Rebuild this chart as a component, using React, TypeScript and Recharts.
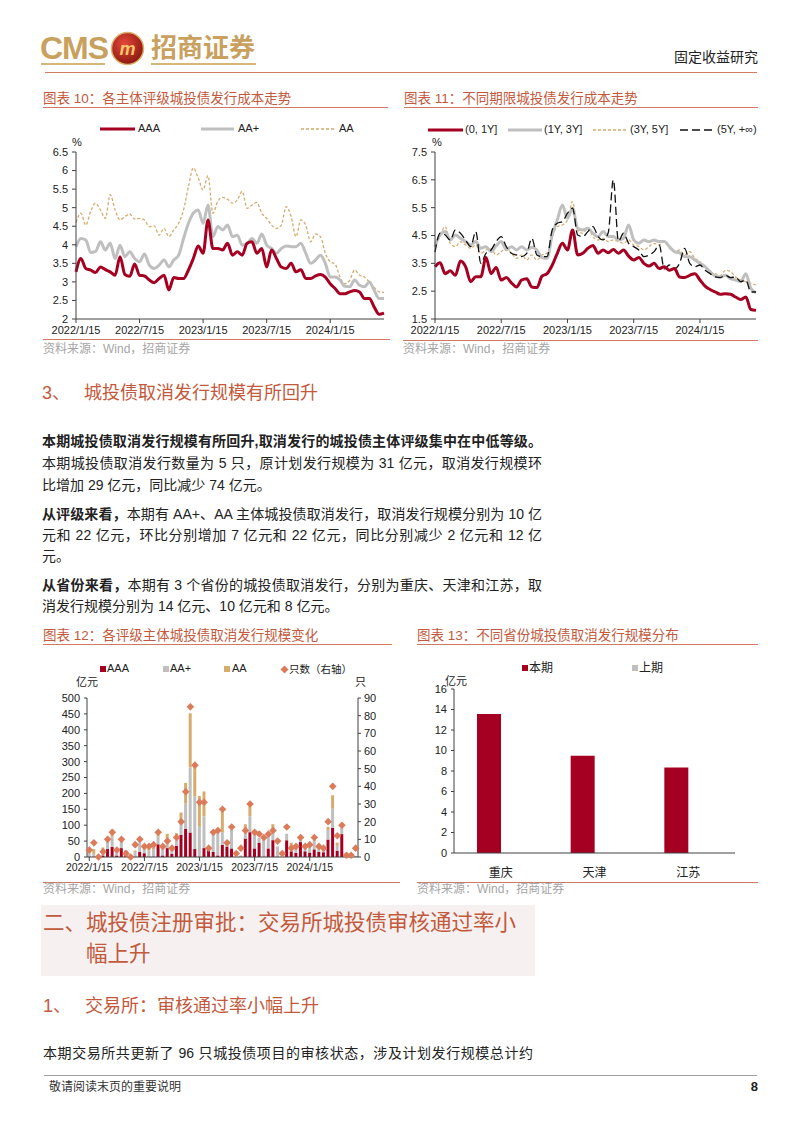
import React from 'react';
import { LineChart, Line, XAxis, YAxis, ComposedChart, Bar, BarChart } from 'recharts';

const LATIN = '"Liberation Sans", Arial, sans-serif';
const CJK = '"Liberation Sans", "Noto Sans CJK SC", sans-serif';
const TITLE_RED = '#c25a3d';
const LINE_RED = '#d07a62';
const DARK_RED = '#a50021';
const GRAY = '#bfbfbf';
const TAN = '#d6ab6e';

// ---------- Chart 10: cost by issuer rating (biweekly points) ----------
const rateTickIdx = [0, 13, 26, 39, 52];
const rateTickLabels = ['2022/1/15', '2022/7/15', '2023/1/15', '2023/7/15', '2024/1/15'];

const aaaCost = [3.27,3.63,3.36,3.32,3.25,3.40,3.33,3.27,3.18,3.68,3.20,3.15,3.48,3.18,3.16,3.05,2.98,3.09,3.18,2.78,3.12,3.09,3.09,3.32,3.63,3.97,3.77,4.67,3.90,3.90,3.86,4.04,3.72,3.81,3.72,4.04,4.08,3.77,3.90,3.40,3.86,3.63,3.40,3.36,3.50,3.27,3.33,3.09,3.09,3.16,3.20,3.13,2.95,2.82,2.68,2.68,2.73,2.77,2.73,2.55,2.55,2.32,2.13,2.16];
const aapCost = [3.95,4.17,4.13,3.79,3.82,4.08,3.86,4.04,3.63,3.99,3.68,3.81,3.63,3.54,3.75,3.45,3.36,3.45,3.59,3.41,3.59,3.72,4.17,4.58,4.85,4.94,4.58,5.07,4.22,4.49,4.40,4.53,4.22,4.26,3.99,4.04,4.17,4.04,4.29,3.99,3.90,3.77,3.90,3.97,3.95,3.95,4.04,3.77,3.50,3.59,3.72,3.50,3.13,3.13,3.05,2.88,2.87,3.05,2.91,2.87,3.00,2.77,2.55,2.55];
const aaCost = [4.60,4.85,4.53,4.90,5.12,4.94,4.71,5.35,4.94,4.67,4.76,4.83,4.69,4.71,4.67,4.49,4.51,4.26,4.44,4.22,4.40,4.58,4.94,5.57,6.07,5.80,5.48,5.86,4.85,5.17,5.28,5.23,5.12,5.21,5.44,4.98,5.07,5.14,4.85,4.71,4.53,4.44,4.53,5.03,4.76,4.22,4.67,4.53,4.08,4.29,4.22,3.77,3.54,3.48,3.13,2.95,3.05,3.32,3.18,3.13,3.00,2.85,2.73,2.72];

// ---------- Chart 11: cost by tenor ----------
const tenor01 = [3.38,3.52,3.13,3.23,3.07,3.58,3.38,2.84,3.02,3.02,3.71,3.13,3.35,2.90,2.99,2.80,2.65,2.90,2.95,2.65,2.63,3.04,3.13,3.43,3.86,4.22,3.98,4.70,3.80,3.86,4.04,4.14,3.86,3.98,3.88,4.00,3.86,3.98,3.76,3.62,3.71,3.50,3.40,3.50,3.31,3.38,3.25,3.31,3.01,2.99,3.07,3.13,2.90,2.68,2.56,2.47,2.39,2.41,2.39,2.29,2.20,2.29,1.84,1.81];
const tenor13 = [4.10,4.52,4.64,4.34,4.52,4.40,4.28,4.16,4.28,4.04,4.10,3.92,4.13,4.28,3.98,4.10,3.98,4.10,3.98,4.08,3.98,3.71,3.68,4.52,5.06,5.60,5.12,5.48,4.76,4.70,4.76,4.58,4.46,4.64,4.46,4.46,4.34,4.40,4.88,4.34,4.22,4.34,4.28,4.34,4.28,4.28,4.10,3.92,3.88,3.74,3.74,3.62,3.50,3.38,3.20,3.04,3.01,3.07,2.95,2.90,2.84,3.13,2.60,2.45];
const tenor35 = [4.22,4.52,4.82,4.22,4.10,4.28,4.16,4.04,4.16,3.86,3.98,4.04,3.80,3.92,4.04,3.86,3.68,3.80,3.62,3.80,3.62,3.80,3.86,4.46,4.82,4.88,5.06,5.72,4.70,4.58,4.76,4.46,4.34,4.40,4.28,4.34,4.28,4.22,4.34,4.16,4.10,3.98,4.10,4.22,4.16,4.28,4.04,3.92,3.98,3.80,3.92,3.68,3.56,3.31,3.20,3.13,3.07,3.25,3.20,3.01,2.90,2.84,2.78,2.72];
const tenor5p = [3.90,4.58,4.52,4.34,4.70,4.58,4.34,4.10,4.64,3.50,3.86,3.98,4.28,4.46,4.10,3.86,3.80,3.74,3.86,4.40,3.80,3.74,3.74,4.70,4.94,5.00,5.30,5.48,4.52,4.46,4.64,4.82,4.46,4.34,4.60,6.50,4.30,4.58,4.22,4.10,3.98,3.74,3.80,3.92,4.16,3.30,3.44,3.31,3.50,4.04,3.50,3.38,3.44,3.25,3.13,3.01,2.99,3.07,2.99,3.01,2.84,2.90,2.47,2.47];

// ---------- Chart 12: cancelled issuance by rating ----------
const cancelTickIdx = [0, 12, 24, 36, 48];
const cancelAAA = [0,0,0,5,25,32,5,28,20,0,0,16,12,0,0,40,5,28,10,35,70,88,77,25,0,28,28,16,5,38,33,27,0,0,58,78,27,45,0,27,53,0,0,53,18,13,47,18,14,24,16,15,55,92,20,72,0,0,0];
const cancelAAp = [12,10,0,10,25,32,15,25,0,0,15,30,20,20,25,25,25,20,15,30,45,80,205,165,95,100,5,60,75,40,15,58,5,5,30,50,45,15,55,40,35,33,3,20,15,13,10,8,18,32,20,10,30,60,15,20,0,0,3];
const cancelAA = [13,15,0,15,5,22,0,0,0,5,5,0,0,5,5,10,0,25,0,10,25,65,170,100,97,78,0,0,0,65,0,0,0,0,15,32,0,0,0,0,15,0,0,0,12,10,0,0,0,0,5,0,10,42,10,0,0,0,0];
const cancelCount = [4,8,0,3,10,14,4,10,2,0,7,10,6,6,7,14,6,9,5,11,20,37,85,52,31,31,5,14,15,27,8,17,2,5,15,30,14,13,11,13,15,9,2,17,5,6,11,6,7,11,6,5,20,40,12,18,1,1,5];

// ---------- Chart 13: cancelled issuance by province ----------
const provinces = ['重庆', '天津', '江苏'];
const provCurrent = [13.55, 9.5, 8.35];
const provPrevious = [0, 0, 0];

const ratingData = aaaCost.map((v, i) => ({ i, aaa: v, aap: aapCost[i], aa: aaCost[i] }));
const tenorData = tenor01.map((v, i) => ({ i, t01: v, t13: tenor13[i], t35: tenor35[i], t5p: tenor5p[i] }));
const cancelData = cancelAAA.map((v, i) => ({ i, aaa: v, aap: cancelAAp[i], aa: cancelAA[i], cnt: cancelCount[i] }));
const provData = provinces.map((p, k) => ({ p, cur: provCurrent[k], prev: provPrevious[k] }));

const fmtRate = (v: number) => {
  const k = rateTickIdx.indexOf(v);
  return k >= 0 ? rateTickLabels[k] : '';
};
const fmtCancel = (v: number) => {
  const k = cancelTickIdx.indexOf(v);
  return k >= 0 ? rateTickLabels[k] : '';
};

const tickStyle = { fontSize: 11, fill: '#222', fontFamily: LATIN };
const axisLine = { stroke: '#404040', strokeWidth: 1 };

const Txt = ({ x, y, size = 14, color = '#222', weight = 400, family = CJK, children, width, justify, right }: any) => (
  <div
    style={{
      position: 'absolute',
      left: right === undefined ? x : undefined,
      right: right !== undefined ? 802 - right : undefined,
      top: y - size * 0.7,
      width,
      fontSize: size,
      lineHeight: `${Math.round(size * 1.4)}px`,
      color,
      fontWeight: weight,
      fontFamily: family,
      whiteSpace: 'nowrap',
      textAlign: justify ? 'justify' : 'left',
      textAlignLast: justify ? 'justify' : undefined,
    } as any}
  >
    {children}
  </div>
);

const HLine = ({ x1, x2, y, color, w = 1 }: any) => (
  <div style={{ position: 'absolute', left: x1, top: y - w / 2, width: x2 - x1, height: w, background: color }} />
);

const LegLine = ({ x1, x2, y, color, w, dash }: any) => (
  <svg style={{ position: 'absolute', left: x1, top: y - 4 }} width={x2 - x1} height={8}>
    <line x1={0} y1={4} x2={x2 - x1} y2={4} stroke={color} strokeWidth={w} strokeDasharray={dash} />
  </svg>
);

const Square = ({ x, y, color, s = 6 }: any) => (
  <div style={{ position: 'absolute', left: x, top: y - s / 2, width: s, height: s, background: color }} />
);

const Diamond = (props: any) => {
  const { cx, cy, index } = props;
  if (cx == null || cy == null) return <g key={`n${index}`} />;
  const r = 3.8;
  return (
    <path
      key={`d${index}`}
      d={`M${cx},${cy - r}L${cx + r},${cy}L${cx},${cy + r}L${cx - r},${cy}Z`}
      fill="#dc7b5a"
    />
  );
};

export default function App() {
  return (
    <div style={{ position: 'absolute', left: 0, top: 0, width: 802, height: 1133, background: '#fff', overflow: 'hidden', fontFamily: CJK }}>
      {/* ---------- Header ---------- */}
      <div style={{ position: 'absolute', left: 40, top: 30, fontFamily: LATIN, fontSize: 32, fontWeight: 600, color: '#c9a15f', letterSpacing: -1, lineHeight: '36px' }}>CMS</div>
      <svg style={{ position: 'absolute', left: 110, top: 31 }} width={35} height={35}>
        <defs>
          <radialGradient id="logoG" cx="40%" cy="35%" r="65%">
            <stop offset="0%" stopColor="#e5473a" />
            <stop offset="100%" stopColor="#8e1a12" />
          </radialGradient>
        </defs>
        <circle cx={17.5} cy={17.5} r={16} fill="url(#logoG)" stroke="#d9b26a" strokeWidth={1.5} />
        <text x={17.5} y={24} textAnchor="middle" fontSize={18} fontWeight={700} fontStyle="italic" fill="#f2c86a" fontFamily={LATIN}>m</text>
      </svg>
      <div style={{ position: 'absolute', left: 151, top: 31, fontSize: 26, fontWeight: 700, color: '#c9a15f', lineHeight: '34px', fontFamily: CJK }}>招商证券</div>
      <HLine x1={41} x2={105} y={64} color="#d7b679" w={2} />
      <HLine x1={151} x2={256} y={64} color="#d7b679" w={2} />
      <Txt right={758} y={57} size={14} color="#222">固定收益研究</Txt>
      <HLine x1={45} x2={757} y={72} color={LINE_RED} w={1} />

      {/* ---------- Chart titles 10/11 ---------- */}
      <Txt x={43} y={98} size={13.5} color={TITLE_RED}>图表 10：各主体评级城投债发行成本走势</Txt>
      <HLine x1={43} x2={388} y={107} color={LINE_RED} w={1} />
      <Txt x={404} y={98} size={13.5} color={TITLE_RED}>图表 11：不同期限城投债发行成本走势</Txt>
      <HLine x1={404} x2={758} y={107} color={LINE_RED} w={1} />

      {/* ---------- Chart 10 legend ---------- */}
      <LegLine x1={100} x2={135} y={129} color={DARK_RED} w={3} />
      <Txt x={138} y={129} size={11} family={LATIN}>AAA</Txt>
      <LegLine x1={201} x2={234} y={129} color={GRAY} w={3} />
      <Txt x={238} y={129} size={11} family={LATIN}>AA+</Txt>
      <LegLine x1={301} x2={335} y={129} color={TAN} w={1.3} dash="3 2" />
      <Txt x={339} y={129} size={11} family={LATIN}>AA</Txt>
      <Txt x={72} y={143} size={11} family={LATIN}>%</Txt>

      <div style={{ position: 'absolute', left: 30, top: 140 }}>
        <LineChart width={370} height={200} data={ratingData} margin={{ top: 12, right: 16, bottom: 0, left: 6 }}>
          <XAxis dataKey="i" type="number" domain={[0, 63]} ticks={rateTickIdx} tickFormatter={fmtRate} interval={0}
            height={21} tickSize={4} tickMargin={3} axisLine={axisLine} tickLine={axisLine} tick={tickStyle} />
          <YAxis domain={[2, 6.5]} ticks={[2, 2.5, 3, 3.5, 4, 4.5, 5, 5.5, 6, 6.5]} interval={0} width={40}
            tickSize={4} tickMargin={4} axisLine={axisLine} tickLine={axisLine} tick={tickStyle} />
          <Line type="monotone" dataKey="aa" stroke={TAN} strokeWidth={1.3} strokeDasharray="3 2" dot={false} isAnimationActive={false} />
          <Line type="monotone" dataKey="aap" stroke={GRAY} strokeWidth={3} dot={false} isAnimationActive={false} />
          <Line type="monotone" dataKey="aaa" stroke={DARK_RED} strokeWidth={3} dot={false} isAnimationActive={false} />
        </LineChart>
      </div>
      <HLine x1={43} x2={390} y={339} color={LINE_RED} w={1} />
      <Txt x={43} y={349} size={12} color="#a6a6a6">资料来源：Wind，招商证券</Txt>

      {/* ---------- Chart 11 legend ---------- */}
      <LegLine x1={428} x2={463} y={130} color={DARK_RED} w={3} />
      <Txt x={465} y={130} size={11} family={LATIN}>(0, 1Y]</Txt>
      <LegLine x1={508} x2={542} y={130} color={GRAY} w={3} />
      <Txt x={544} y={130} size={11} family={LATIN}>(1Y, 3Y]</Txt>
      <LegLine x1={593} x2={628} y={130} color={TAN} w={1.3} dash="3 2" />
      <Txt x={630} y={130} size={11} family={LATIN}>(3Y, 5Y]</Txt>
      <LegLine x1={680} x2={715} y={130} color="#111" w={1.3} dash="8 4" />
      <Txt x={717} y={130} size={11} family={LATIN}>(5Y, +∞)</Txt>
      <Txt x={432} y={143} size={11} family={LATIN}>%</Txt>

      <div style={{ position: 'absolute', left: 395, top: 140 }}>
        <LineChart width={380} height={200} data={tenorData} margin={{ top: 12, right: 19, bottom: 0, left: 6 }}>
          <XAxis dataKey="i" type="number" domain={[0, 63]} ticks={rateTickIdx} tickFormatter={fmtRate} interval={0}
            height={21} tickSize={4} tickMargin={3} axisLine={axisLine} tickLine={axisLine} tick={tickStyle} />
          <YAxis domain={[1.5, 7.5]} ticks={[1.5, 2.5, 3.5, 4.5, 5.5, 6.5, 7.5]} interval={0} width={34}
            tickSize={4} tickMargin={4} axisLine={axisLine} tickLine={axisLine} tick={tickStyle} />
          <Line type="monotone" dataKey="t35" stroke={TAN} strokeWidth={1.2} strokeDasharray="3 2" dot={false} isAnimationActive={false} />
          <Line type="monotone" dataKey="t13" stroke={GRAY} strokeWidth={3} dot={false} isAnimationActive={false} />
          <Line type="monotone" dataKey="t5p" stroke="#111" strokeWidth={1.3} strokeDasharray="8 4" dot={false} isAnimationActive={false} />
          <Line type="monotone" dataKey="t01" stroke={DARK_RED} strokeWidth={3} dot={false} isAnimationActive={false} />
        </LineChart>
      </div>
      <HLine x1={403} x2={758} y={340} color={LINE_RED} w={1} />
      <Txt x={403} y={349} size={12} color="#a6a6a6">资料来源：Wind，招商证券</Txt>

      {/* ---------- Section 3 text ---------- */}
      <Txt x={42} y={394} size={18} color={TITLE_RED}>3、</Txt>
      <Txt x={84} y={394} size={18} color={TITLE_RED}>城投债取消发行规模有所回升</Txt>

      <Txt x={42} y={441} size={14} weight={700} width={500} justify>本期城投债取消发行规模有所回升,取消发行的城投债主体评级集中在中低等级。</Txt>
      <Txt x={42} y={463} size={14} width={500} justify>本期城投债取消发行数量为 5 只，原计划发行规模为 31 亿元，取消发行规模环</Txt>
      <Txt x={42} y={485} size={14}>比增加 29 亿元，同比减少 74 亿元。</Txt>

      <Txt x={42} y={514} size={14} width={500} justify><b>从评级来看，</b>本期有 AA+、AA 主体城投债取消发行，取消发行规模分别为 10 亿</Txt>
      <Txt x={42} y={535} size={14} width={500} justify>元和 22 亿元，环比分别增加 7 亿元和 22 亿元，同比分别减少 2 亿元和 12 亿</Txt>
      <Txt x={42} y={556} size={14}>元。</Txt>

      <Txt x={42} y={585} size={14} width={500} justify><b>从省份来看，</b>本期有 3 个省份的城投债取消发行，分别为重庆、天津和江苏，取</Txt>
      <Txt x={42} y={606} size={14}>消发行规模分别为 14 亿元、10 亿元和 8 亿元。</Txt>

      {/* ---------- Chart titles 12/13 ---------- */}
      <Txt x={43} y={635} size={13.5} color={TITLE_RED}>图表 12：各评级主体城投债取消发行规模变化</Txt>
      <HLine x1={43} x2={392} y={644} color={LINE_RED} w={1} />
      <Txt x={417} y={635} size={13.5} color={TITLE_RED}>图表 13：不同省份城投债取消发行规模分布</Txt>
      <HLine x1={417} x2={758} y={644} color={LINE_RED} w={1} />

      {/* ---------- Chart 12 legend ---------- */}
      <Square x={100} y={669} color={DARK_RED} />
      <Txt x={107} y={669} size={11} family={LATIN}>AAA</Txt>
      <Square x={163} y={669} color={GRAY} />
      <Txt x={170} y={669} size={11} family={LATIN}>AA+</Txt>
      <Square x={224} y={669} color={TAN} />
      <Txt x={232} y={669} size={11} family={LATIN}>AA</Txt>
      <svg style={{ position: 'absolute', left: 280, top: 665 }} width={9} height={9}>
        <path d="M4.5,0.5L8.5,4.5L4.5,8.5L0.5,4.5Z" fill="#dc7b5a" />
      </svg>
      <Txt x={289} y={669} size={10.5}>只数（右轴）</Txt>
      <Txt x={76} y={683} size={11}>亿元</Txt>
      <Txt x={355} y={683} size={11}>只</Txt>

      <div style={{ position: 'absolute', left: 30, top: 675 }}>
        <ComposedChart width={370} height={205} data={cancelData} barCategoryGap="14%" margin={{ top: 23, right: 6, bottom: 0, left: 7 }}>
          <XAxis dataKey="i" type="category" ticks={cancelTickIdx} tickFormatter={fmtCancel} interval={0}
            height={23} tickSize={4} tickMargin={3} axisLine={axisLine} tickLine={axisLine}
            tick={{ fontSize: 10.5, fill: '#222', fontFamily: LATIN }} />
          <YAxis yAxisId="left" domain={[0, 500]} ticks={[0, 50, 100, 150, 200, 250, 300, 350, 400, 450, 500]} interval={0}
            width={50} tickSize={3} tickMargin={4} axisLine={axisLine} tickLine={axisLine} tick={tickStyle} />
          <YAxis yAxisId="right" orientation="right" domain={[0, 90]} ticks={[0, 10, 20, 30, 40, 50, 60, 70, 80, 90]} interval={0}
            width={36} tickSize={3} tickMargin={3} axisLine={axisLine} tickLine={axisLine} tick={tickStyle} />
          <Bar yAxisId="left" dataKey="aaa" stackId="s" fill={DARK_RED} isAnimationActive={false} />
          <Bar yAxisId="left" dataKey="aap" stackId="s" fill={GRAY} isAnimationActive={false} />
          <Bar yAxisId="left" dataKey="aa" stackId="s" fill={TAN} isAnimationActive={false} />
          <Line yAxisId="right" dataKey="cnt" stroke="none" dot={Diamond} activeDot={false} legendType="none" isAnimationActive={false} />
        </ComposedChart>
      </div>
      <HLine x1={43} x2={400} y={882} color={LINE_RED} w={1} />
      <Txt x={43} y={889} size={12} color="#a6a6a6">资料来源：Wind，招商证券</Txt>

      {/* ---------- Chart 13 ---------- */}
      <Square x={522} y={668} color={DARK_RED} s={6} />
      <Txt x={529} y={668} size={12}>本期</Txt>
      <Square x={632} y={668} color={GRAY} s={6} />
      <Txt x={639} y={668} size={12}>上期</Txt>
      <Txt x={445} y={682} size={11}>亿元</Txt>

      <div style={{ position: 'absolute', left: 405, top: 675 }}>
        <BarChart width={350} height={205} data={provData} barGap={0} margin={{ top: 14, right: 20, bottom: 0, left: 6 }}>
          <XAxis dataKey="p" type="category" height={27} tickLine={false} tickMargin={9} axisLine={axisLine}
            tick={{ fontSize: 12, fill: '#222', fontFamily: CJK }} />
          <YAxis domain={[0, 16]} ticks={[0, 2, 4, 6, 8, 10, 12, 14, 16]} interval={0} width={43}
            tickSize={3} tickMargin={4} axisLine={axisLine} tickLine={axisLine} tick={tickStyle} />
          <Bar dataKey="cur" fill={DARK_RED} barSize={24} isAnimationActive={false} />
          <Bar dataKey="prev" fill={GRAY} barSize={24} isAnimationActive={false} />
        </BarChart>
      </div>
      <HLine x1={417} x2={758} y={882} color={LINE_RED} w={1} />
      <Txt x={417} y={889} size={12} color="#a6a6a6">资料来源：Wind，招商证券</Txt>

      {/* ---------- Section 二 ---------- */}
      <div style={{ position: 'absolute', left: 41, top: 905, width: 494, height: 71, background: '#f6f1f0' }} />
      <Txt x={43} y={923} size={21.5} color={TITLE_RED}>二、城投债注册审批：交易所城投债审核通过率小</Txt>
      <Txt x={86} y={954} size={21.5} color={TITLE_RED}>幅上升</Txt>

      <Txt x={43} y={1007} size={18} color={TITLE_RED}>1、</Txt>
      <Txt x={85} y={1007} size={18} color={TITLE_RED}>交易所：审核通过率小幅上升</Txt>

      <Txt x={43} y={1053} size={14} width={490} justify>本期交易所共更新了 96 只城投债项目的审核状态，涉及计划发行规模总计约</Txt>

      {/* ---------- Footer ---------- */}
      <HLine x1={44} x2={757} y={1075} color="#a0a0a0" w={1} />
      <Txt x={49} y={1087} size={12} color="#333">敬请阅读末页的重要说明</Txt>
      <Txt right={758} y={1087} size={13} weight={700} family={LATIN}>8</Txt>
    </div>
  );
}
